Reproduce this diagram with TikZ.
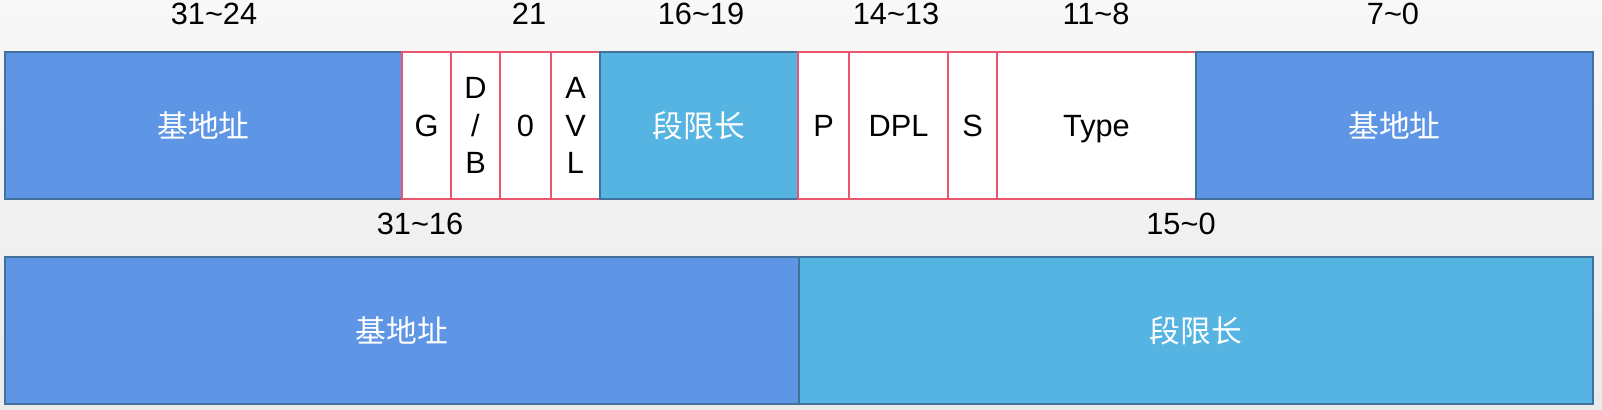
\documentclass[tikz,border=0pt]{standalone}
\usepackage{fontspec}
\setmainfont{Liberation Sans}
\newfontfamily\cjk{Noto Sans CJK SC}
\usetikzlibrary{positioning}
\definecolor{baseblue}{HTML}{5E95E5}
\definecolor{limitblue}{HTML}{56B4E3}
\definecolor{boxedge}{HTML}{41719C}
\definecolor{flagedge}{HTML}{E9566E}
\definecolor{bgtop}{HTML}{F8F8F8}
\definecolor{bgbottom}{HTML}{EAEAEA}
\tikzset{
  fieldw/.style={minimum width=#1*0.02cm},
  field/.style={draw=boxedge, line width=1pt, inner sep=0pt, outer sep=0pt,
    minimum height=147*0.02cm, text=white, font=\cjk\fontsize{17.5}{21}\selectfont},
  basefield/.style={field, fill=baseblue},
  limitfield/.style={field, fill=limitblue},
  flag/.style={field, draw=flagedge, fill=white, text=black, align=center,
    font=\fontsize{17.5}{21.5}\selectfont},
  bits/.style={inner sep=0pt, font=\fontsize{17.5}{21}\selectfont}
}

\begin{document}
\begin{tikzpicture}[x=0.02cm,y=-0.02cm]
  \useasboundingbox (0,0) rectangle (1602,409);
  \shade[top color=bgtop, bottom color=bgbottom] (0,0) rectangle (1602,409);

  % upper row: descriptor high word
  \node[basefield, fieldw=397, anchor=north west] (basehi) at (5,52) {基地址};
  \node[flag, fieldw=49, right=0pt of basehi] (gran) {G};
  \node[flag, fieldw=49, right=0pt of gran] (dbit) {D\\/\\B};
  \node[flag, fieldw=51, right=0pt of dbit] (zero) {0};
  \node[flag, fieldw=49, right=0pt of zero] (avl) {A\\V\\L};
  \node[limitfield, fieldw=198, right=0pt of avl] (limithi) {段限长};
  \node[flag, fieldw=51, right=0pt of limithi] (pres) {P};
  \node[flag, fieldw=99, right=0pt of pres] (dpl) {DPL};
  \node[flag, fieldw=49, right=0pt of dpl] (sys) {S};
  \node[flag, fieldw=199, text depth=0pt, right=0pt of sys] (type) {Type};
  \node[basefield, fieldw=397, right=0pt of type] (basemid) {基地址};

  % lower row: descriptor low word
  \node[basefield, fieldw=794, anchor=north west] (baselo) at (5,257) {基地址};
  \node[limitfield, fieldw=794, right=0pt of baselo] (limitlo) {段限长};

  % bit ranges
  \node[bits] (b3124) at (214,14) {31\textasciitilde 24};
  \node[bits] (b21) at (529,14) {21};
  \node[bits] (b1619) at (701,14) {16\textasciitilde 19};
  \node[bits] (b1413) at (896,14) {14\textasciitilde 13};
  \node[bits] (b118) at (1096,14) {11\textasciitilde 8};
  \node[bits] (b70) at (1393,14) {7\textasciitilde 0};
  \node[bits] (b3116) at (420,224) {31\textasciitilde 16};
  \node[bits] (b150) at (1181,224) {15\textasciitilde 0};
\end{tikzpicture}
\end{document}
